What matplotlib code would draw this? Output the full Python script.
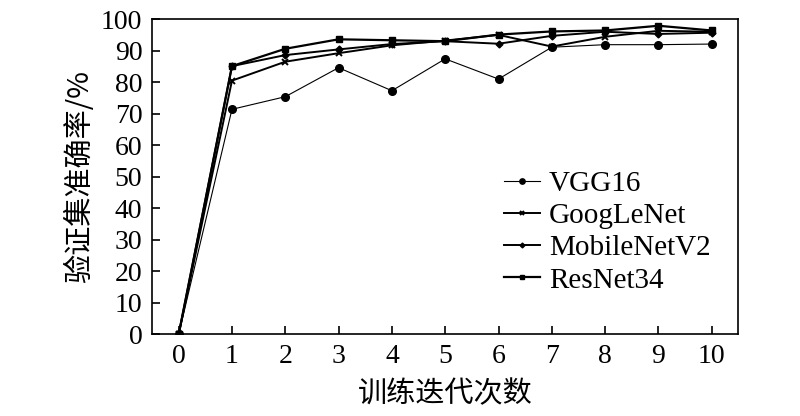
import matplotlib.pyplot as plt

epochs = [0, 1, 2, 3, 4, 5, 6, 7, 8, 9, 10]
vgg16 = [0, 71.4, 75.4, 84.6, 77.3, 87.4, 81.0, 91.1, 91.9, 91.9, 92.1]
googlenet = [0, 80.5, 86.5, 89.2, 91.7, 93.2, 95.0, 91.3, 94.4, 96.3, 96.0]
mobilenetv2 = [0, 85.1, 88.6, 90.4, 92.1, 93.0, 92.2, 94.7, 96.0, 95.3, 95.7]
resnet34 = [0, 85.1, 90.6, 93.6, 93.3, 93.0, 95.1, 96.1, 96.4, 97.9, 96.4]

serif = ['Liberation Serif', 'DejaVu Serif']
cjk = ['Noto Sans CJK SC', 'DejaVu Sans']

fig = plt.figure(figsize=(8, 4.16), dpi=100)
ax = fig.add_axes([0.19, 0.196, 0.733, 0.758])

ax.plot(epochs, vgg16, color='black', lw=0.8, marker='o', ms=5.5, label='VGG16')
ax.plot(epochs, googlenet, color='black', lw=1.4, marker='x', ms=5, mew=1.4, label='GoogLeNet')
ax.plot(epochs, mobilenetv2, color='black', lw=1.4, marker='D', ms=3.5, label='MobileNetV2')
ax.plot(epochs, resnet34, color='black', lw=1.6, marker='s', ms=5, label='ResNet34')

ax.set_xlim(-0.5, 10.5)
ax.set_ylim(0, 100)
ax.set_xticks(epochs)
ax.set_yticks(range(0, 101, 10))
ax.tick_params(direction='in', length=6, width=1.2, labelsize=20, pad=7)
for lab in ax.get_xticklabels() + ax.get_yticklabels():
    lab.set_family(serif)
for s in ax.spines.values():
    s.set_linewidth(1.2)

ax.set_xlabel('训练迭代次数', family=cjk, fontsize=21, labelpad=7)
ax.set_ylabel('验证集准确率/%', family=cjk, fontsize=21, labelpad=4)

ax.legend(loc='upper left', bbox_to_anchor=(0.6, 0.52), frameon=False,
          prop={'family': serif, 'size': 21}, handlelength=1.25,
          handletextpad=0.3, labelspacing=0.2, borderaxespad=0, borderpad=0,
          markerscale=0.7)

fig.savefig('out.png', dpi=100)
